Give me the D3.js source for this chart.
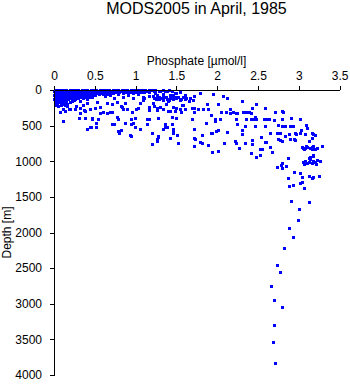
<!DOCTYPE html>
<html>
<head>
<meta charset="utf-8">
<script src="https://cdn.jsdelivr.net/npm/d3@7"></script>
<style>
  html, body { margin: 0; padding: 0; background: #fff; }
  svg { display: block; }
  text { font-family: "Liberation Sans", Arial, Helvetica, sans-serif; fill: #000; }
</style>
</head>
<body>
<svg id="chart" width="350" height="384"></svg>
<script>
// ---- data: [phosphate (µmol/l), depth (m)] ----
const xTicks = [0, 0.5, 1, 1.5, 2, 2.5, 3, 3.5];
const yTicks = [0, 500, 1000, 1500, 2000, 2500, 3000, 3500, 4000];

const surface = [
[0.02,0],[0.08,0],[0.15,0],[0.22,0],[0.3,0],[0.38,0],[0.45,0],[0.52,0],[0.6,0],[0.68,0],[0.75,0],[0.83,0],[0.9,0],[0.98,0],[1.05,0],[1.12,0],
[0.0,12],[0.05,12],[0.1,12],[0.18,12],[0.25,12],[0.33,12],[0.4,12],[0.48,12],[0.56,12],[0.63,12],[0.7,12],[0.78,12],[0.86,12],[0.94,12],[1.0,12],[1.08,12],[1.15,12],
[0.03,25],[0.09,25],[0.14,25],[0.2,25],[0.27,25],[0.35,25],[0.42,25],[0.5,25],[0.58,25],[0.66,25],[0.73,25],[0.8,25],[0.88,25],[0.95,25],[1.03,25],[1.1,25],[1.17,25],
[0.01,40],[0.07,40],[0.12,40],[0.19,40],[0.26,40],[0.31,40],[0.37,40],[0.44,40],[0.51,40],[0.6,38],[0.72,40],[0.85,36],[0.97,40],
[0.02,55],[0.06,55],[0.13,55],[0.2,55],[0.28,55],[0.34,55],[0.41,55],[0.47,55],[0.55,52],[0.65,55],
[0.0,70],[0.05,70],[0.11,70],[0.17,70],[0.24,70],[0.3,70],[0.36,70],[0.43,70],[0.5,72],
[0.03,85],[0.09,85],[0.15,85],[0.22,85],[0.29,85],[0.35,85],[0.42,85],[0.47,88],
[0.01,100],[0.07,100],[0.13,100],[0.19,100],[0.26,100],[0.33,100],[0.39,100],[0.46,104],
[0.02,115],[0.08,115],[0.14,115],[0.21,115],[0.3,118],[0.4,120],
[0.0,130],[0.05,130],[0.11,130],[0.17,130],[0.25,135],
[0.03,150],[0.09,150],[0.15,150],[0.22,155],
[0.01,170],[0.07,170],[0.13,170],[0.19,175],
[0.04,190],[0.1,190],[0.16,195],
[0.02,210],[0.08,210],[0.14,212],
[0.05,225]
];

const surfaceFill = [
[0.05,5],[0.12,5],[0.19,5],[0.26,5],[0.34,5],[0.41,5],[0.49,5],[0.56,5],[0.64,5],[0.72,5],[0.79,5],[0.87,5],[0.94,5],[1.02,5],[1.09,5],[1.16,5],[1.24,5],[1.33,5],[1.41,5],
[0.02,18],[0.08,18],[0.15,18],[0.22,18],[0.29,18],[0.37,18],[0.44,18],[0.52,18],[0.6,18],[0.67,18],[0.75,18],[0.82,18],[0.9,18],[0.98,18],[1.06,18],[1.13,18],[1.22,18],[1.29,18],[1.36,18],
[0.05,32],[0.11,32],[0.17,32],[0.24,32],[0.31,32],[0.39,32],[0.46,32],[0.54,32],[0.62,32],[0.69,32],[0.77,32],[0.84,32],[0.92,32],[1.0,32],[1.07,32],
[0.04,47],[0.1,47],[0.16,47],[0.23,47],[0.29,47],[0.35,47],[0.41,47],[0.48,47],[0.55,46],[0.64,45],[0.78,46],[0.91,45],
[0.04,62],[0.1,62],[0.16,62],[0.23,62],[0.31,62],[0.38,62],[0.44,62],[0.6,62],
[0.02,78],[0.08,78],[0.14,78],[0.2,78],[0.27,78],[0.33,78],[0.4,78],[0.46,78],
[0.05,92],[0.12,92],[0.18,92],[0.25,92],[0.32,92],[0.38,92],[0.44,94],
[0.04,108],[0.1,108],[0.16,108],[0.23,108],[0.29,108],[0.36,110],
[0.03,122],[0.09,122],[0.15,124],[0.02,140],[0.07,140],[0.13,142],[0.05,160],[0.11,160],[0.03,180],[0.09,182]
];

const shallow = [
[1.2,5],[1.3,15],[1.38,8],[1.45,20],[1.55,30],[1.24,47],[1.34,61],[1.48,37],
[1.21,90],[1.26,100],[1.3,110],[1.34,95],[1.38,120],[1.42,105],[1.46,130],[1.5,115],[1.55,140],[1.6,125],[1.65,150],[1.7,135],[1.25,130],[1.33,140],[1.48,100],[1.58,105],
[1.23,112],[1.29,92],[1.37,102],[1.44,118],[1.52,98],[1.56,122],[1.62,108],[1.67,118],[1.41,138],[1.29,122],
[0.48,70],[0.56,47],[0.63,84],[0.69,70],[0.73,117],[0.79,56],[0.85,94],[0.91,70],[0.97,117],[1.03,56],[1.09,94],[1.16,84],[1.26,70],[1.34,75],[1.42,70],[1.46,72],
[0.53,164],[0.65,178],[0.56,234],[0.50,257],[0.60,304],[0.71,197],[0.77,164],[0.82,225],[0.87,187],[0.89,271],[1.01,271],[1.05,187],[1.10,117],[1.17,243],[1.21,187],[1.26,281],[1.30,243],[1.37,200],[1.42,290],[1.40,150],[1.46,234],
[0.11,271],[0.18,271],[0.07,304],[0.16,225],[0.22,140],[0.26,131],[0.32,150],[0.36,210],[0.41,187],[0.44,271],[0.32,257],[0.27,225],[0.38,290],[0.56,327],[0.65,327],[0.71,313]
];

const scattered = [
[0.11,435],[0.26,262],[0.32,318],[0.31,388],[0.38,388],[0.37,281],[0.40,552],[0.45,515],[0.47,388],[0.52,468],[0.52,515],[0.54,412],[0.56,234],[0.60,309],[0.69,309],[0.71,482],[0.73,482],[0.77,375],[0.79,412],[0.80,599],[0.82,562],[0.83,234],[0.85,271],[0.87,468],[0.93,636],[0.94,412],[0.95,309],[0.97,468],[1.03,248],[1.06,552],[1.09,140],[1.14,412],[1.16,281],[0.20,262],[0.13,295],
[0.44,515],[0.46,403],[0.79,571],[0.94,482],[0.94,641],[0.99,398],[0.99,515],[1.05,547],[1.16,412],[1.14,482],[1.20,762],[1.26,716],[1.27,655],[1.34,552],[1.36,477],[1.46,562],[1.46,608]
];

const mid = [
[1.22,225],[1.26,248],[1.34,262],[1.40,295],[1.48,295],[1.54,262],[1.58,215],[1.61,271],[1.71,248],[1.77,262],[1.83,271],[1.89,262],[1.93,356],[1.28,398],[1.44,375],[1.50,398],[1.69,412],[1.97,412],[2.03,412],[2.23,412],[1.36,515],[1.39,515],[1.45,482],[1.46,552],[1.71,543],[1.81,636],[1.71,669],[1.92,599],[1.99,576],[2.24,482],[2.30,622],[2.22,716],[1.20,599],[1.28,646],[1.26,692],[1.42,669],[1.52,739],[1.79,730],
[1.87,200],[2.01,200],[2.16,262],[2.19,309],[2.24,318],[2.32,309],[2.36,309],[2.39,309],
[1.79,37],[1.95,61],[2.07,84],[2.12,108],[2.30,154],[1.50,47],[1.61,70],[1.71,84],
[1.57,210],[1.49,257],[1.56,313],[1.69,257],[1.71,313],[2.05,313],[2.11,313],[2.16,318],[2.23,327],[2.34,313],[2.43,257],[2.46,375],[1.86,468],[1.97,431],[2.04,412],[2.34,501],[2.01,562],[2.12,594],[1.94,599],[2.31,562],[2.45,412],[2.35,412],[1.51,632],
[1.52,748],[1.73,692],[1.81,739],[1.89,772],[1.94,875],[2.01,852],[2.08,748],[2.23,739],[2.27,809],[2.34,739],[1.72,786]
];

const upperRight = [
[2.48,200],[2.43,257],[2.59,257],[2.71,304],[2.80,295],[2.81,304],[2.41,318],[2.41,412],[2.48,412],[2.57,412],[2.60,412],[2.63,412],[2.70,421],[2.80,412],[2.91,398],[3.01,412],
[2.46,505],[2.58,505],[2.74,496],[2.79,505],[2.83,505],[2.89,505],[2.93,505],[3.09,496],[3.10,529],
[2.73,599],[2.77,599],[2.83,646],[2.88,622],[2.95,608],[2.97,622],[3.01,599],[3.03,562],[3.07,622],[3.16,599],[3.18,622],[3.20,636],[2.54,655],[2.65,608],[2.75,608],[3.16,669],
[2.43,702],[2.43,762],[2.60,730],[2.74,683],[2.77,702],[2.94,692],[3.12,716],[2.59,725],[2.89,692],
[2.58,734],[2.65,804],[2.52,833],[2.55,833],[2.67,866],[2.42,889],[2.47,936],[2.52,912],[2.79,716],[2.95,702],
[3.06,833],[3.09,786],[3.16,804],[3.20,833],[3.29,786],[3.10,800],[3.14,820],[3.05,815],[3.18,790],[3.22,815],[3.04,795],[3.08,818],[3.16,833],
[3.18,926],[3.26,997],[3.12,1006],[3.06,1038],[3.16,1029],[3.21,1038],[3.08,990],[3.14,975],[3.18,1000],[3.10,1020],[3.20,1015],[3.05,1005],[3.14,936],[3.18,912],[3.12,960],[3.22,985],
[2.87,950],[2.80,1020],[2.78,1053],[2.84,1067],[2.73,1085],[2.80,1100],
[2.94,1156],[3.01,1170],[3.13,1208],[3.18,1217],[3.25,1208],[3.04,1217],[2.87,1230],[3.16,1240],[3.12,1208],
[3.04,1296],[3.01,1310],[2.93,1333],[2.88,1347],[3.06,1380]
];

const deep = [
[2.90,1558],[3.12,1577],[3.00,1670],[2.99,1825],[2.88,1942],[2.93,2067],[2.82,2222],[2.73,2456],[2.77,2559],[2.66,2755],[2.69,2952],[2.79,3050],[2.69,3302],[2.68,3541],[2.71,3836]
];

const allPoints = [].concat(surface, surfaceFill, shallow, scattered, mid, upperRight, deep);

// ---- layout ----
const svg = d3.select("#chart");
const x = d3.scaleLinear().domain([0, 3.5]).range([54, 339.6]);
const y = d3.scaleLinear().domain([0, 4000]).range([90, 375]);

// points
svg.append("g")
  .selectAll("rect")
  .data(allPoints)
  .join("rect")
  .attr("x", d => Math.round(x(d[0])) - 1)
  .attr("y", d => Math.round(y(d[1])) - 1)
  .attr("width", 3)
  .attr("height", 3)
  .attr("fill", "#0000ff")
  .attr("shape-rendering", "crispEdges");

// axes
const xAxis = d3.axisTop(x).tickValues(xTicks).tickSize(4).tickSizeOuter(0).tickPadding(6)
  .tickFormat(d => String(d));
const gx = svg.append("g").attr("transform", "translate(0,90)").call(xAxis);
const yAxis = d3.axisLeft(y).tickValues(yTicks).tickSize(4).tickSizeOuter(0).tickPadding(8)
  .tickFormat(d => String(d));
const gy = svg.append("g").attr("transform", "translate(54,0)").call(yAxis);

[gx, gy].forEach(g => {
  g.selectAll("path.domain").attr("stroke", "#000").attr("stroke-width", 1).attr("shape-rendering", "crispEdges");
  g.selectAll(".tick line").attr("stroke", "#000").attr("shape-rendering", "crispEdges");
  g.selectAll(".tick text").attr("font-size", 12).attr("font-family", "'Liberation Sans', Arial, sans-serif").attr("fill", "#000");
});

// title & labels
svg.append("text")
  .attr("x", 196.5).attr("y", 14)
  .attr("text-anchor", "middle")
  .attr("font-size", 16)
  .text("MODS2005 in April, 1985");

svg.append("text")
  .attr("x", 196.5).attr("y", 64.5)
  .attr("text-anchor", "middle")
  .attr("font-size", 12)
  .text("Phosphate [\u00b5mol/l]");

svg.append("text")
  .attr("transform", "translate(11,232.5) rotate(-90)")
  .attr("text-anchor", "middle")
  .attr("font-size", 12)
  .text("Depth [m]");
</script>
</body>
</html>
